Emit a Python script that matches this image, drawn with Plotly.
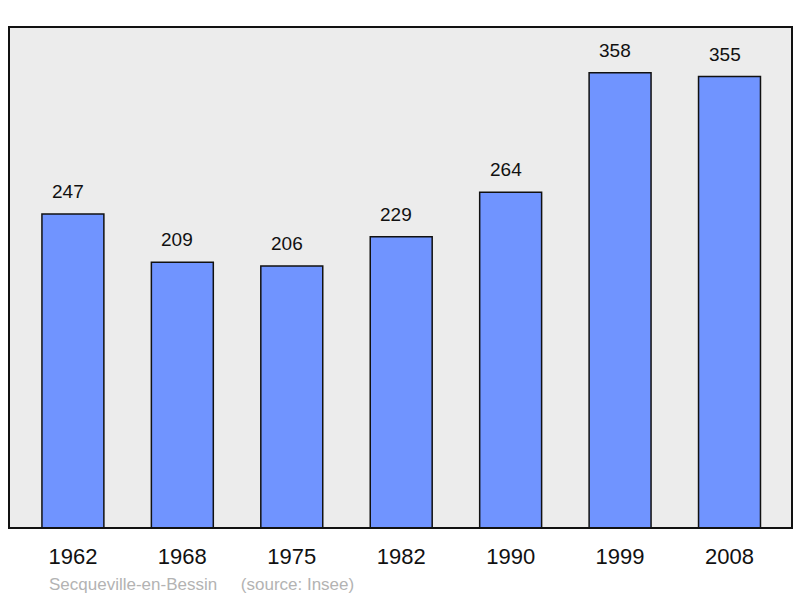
import plotly.graph_objects as go

years = ["1962", "1968", "1975", "1982", "1990", "1999", "2008"]
population = [247, 209, 206, 229, 264, 358, 355]
source_text = "Secqueville-en-Bessin    (source: Insee)"

W, H = 800, 598
L, R, T, B = 9, 8, 27, 70
idx = list(range(len(years)))

fig = go.Figure()
fig.add_trace(go.Bar(
    x=idx, y=population, width=0.566,
    marker=dict(color="#7094ff", line=dict(color="#111111", width=1.5)),
    hoverinfo="skip",
))
for i, v in zip(idx, population):
    fig.add_annotation(x=i, y=v, text=str(v), showarrow=False, yanchor="bottom",
                       yshift=10, xshift=-5, font=dict(size=19, color="#111111"))

fig.add_annotation(xref="paper", yref="paper", x=(47 - L) / (W - L - R), xanchor="left",
                   y=-(584 - (H - B)) / (H - T - B), yanchor="middle",
                   text=source_text.replace("    ", "&nbsp;&nbsp;&nbsp;&nbsp;&nbsp;"),
                   showarrow=False, font=dict(size=17, color="#b3b3b3"))

fig.add_shape(type="rect", xref="paper", yref="paper", x0=0, x1=1, y0=0, y1=1,
              line=dict(color="#111111", width=2), layer="above")

fig.update_layout(
    width=W, height=H,
    margin=dict(l=L, r=R, t=T, b=B),
    paper_bgcolor="white", plot_bgcolor="#ececec",
    font=dict(family="Liberation Sans, Arial, sans-serif", color="#111111"),
    showlegend=False,
    xaxis=dict(range=[-0.584, 6.571], tickmode="array", tickvals=idx, ticktext=years,
               showgrid=False, zeroline=False, ticks="", tickfont=dict(size=22),
               ticklabelstandoff=13),
    yaxis=dict(range=[0, 394], showgrid=False, zeroline=False, showticklabels=False, ticks=""),
)
fig.write_html("out.html", config={"displayModeBar": False},
               post_script="document.body.style.margin='0';")
